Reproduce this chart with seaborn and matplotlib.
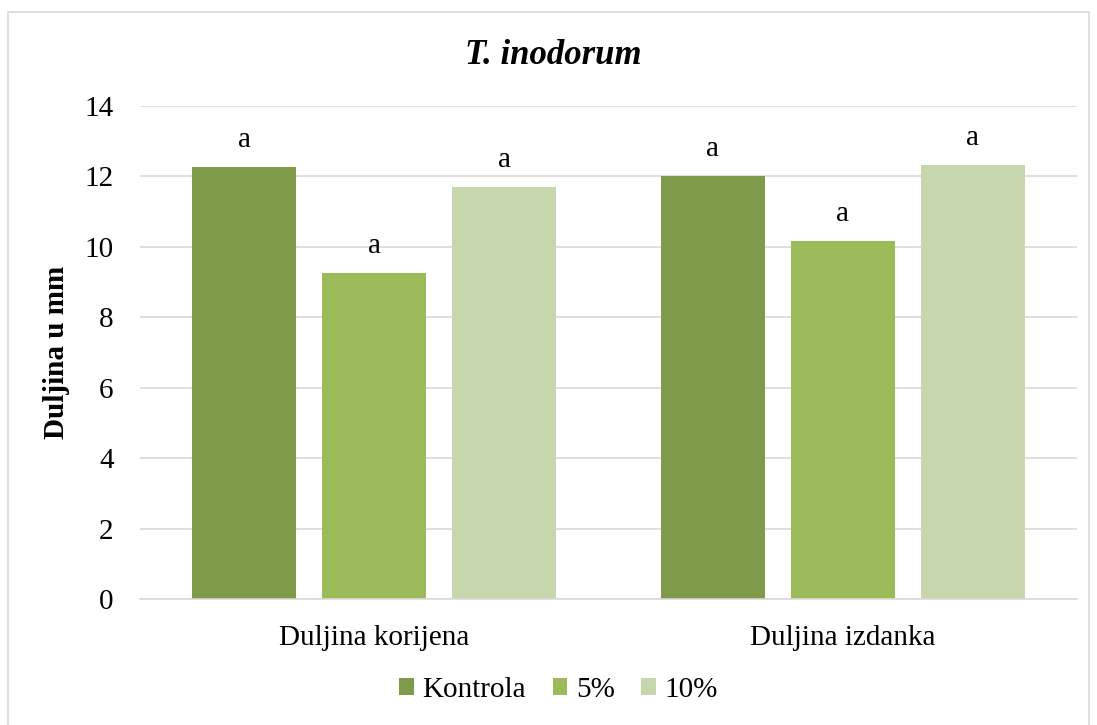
import matplotlib
matplotlib.use("Agg")
import matplotlib.pyplot as plt
import pandas as pd
import seaborn as sns

CATEGORIES = ["Duljina korijena", "Duljina izdanka"]
GROUPS = ["Kontrola", "5%", "10%"]
KONTROLA = [12.27, 12.02]
PET = [9.27, 10.18]
DESET = [11.71, 12.32]
LETTERS = [["a", "a"], ["a", "a"], ["a", "a"]]
COLORS = ["#7f9a48", "#9bbb59", "#c7d6ac"]

rows = []
for g, vals in zip(GROUPS, [KONTROLA, PET, DESET]):
    for c, v in zip(CATEGORIES, vals):
        rows.append({"cat": c, "grp": g, "val": v})
df = pd.DataFrame(rows)

sns.set_style("white")
plt.rcParams["font.family"] = ["Liberation Serif", "DejaVu Serif"]
plt.rcParams["text.color"] = "black"
plt.rcParams["xtick.color"] = "black"
plt.rcParams["ytick.color"] = "black"
plt.rcParams["axes.labelcolor"] = "black"

FS = 21

fig = plt.figure(figsize=(10.97, 7.25), dpi=100)
ax = fig.add_axes([140 / 1097, 1 - 599 / 725, (1077 - 140) / 1097, (599 - 106) / 725])

sns.barplot(data=df, x="cat", y="val", hue="grp", hue_order=GROUPS,
            palette=COLORS, saturation=1, width=0.833, gap=0.2, ax=ax,
            edgecolor="none", legend=True)

# letters above bars
for cont, letters in zip(ax.containers, LETTERS):
    ax.bar_label(cont, labels=letters, padding=10, fontsize=FS)

ax.set_ylim(0, 14)
ax.set_yticks(range(0, 15, 2))
ax.set_xlim(-0.5, 1.5)
ax.yaxis.grid(True, color="#d9d9d9", linewidth=1.2)
ax.set_axisbelow(True)
for s in ["top", "right", "left"]:
    ax.spines[s].set_visible(False)
ax.spines["bottom"].set_color("#d9d9d9")
ax.spines["bottom"].set_linewidth(1.2)
ax.tick_params(axis="both", length=0, labelsize=FS)
ax.tick_params(axis="y", pad=19)
ax.tick_params(axis="x", pad=19)
ax.set_xlabel("")
ax.set_ylabel("Duljina u mm", fontsize=FS, fontweight="bold", labelpad=10)

fig.text(0.5 + 5 / 1097, 1 - 55 / 725, "T. inodorum", ha="center", va="center",
         fontsize=25, fontweight="bold", fontstyle="italic")

handles, labels = ax.get_legend_handles_labels()
ax.legend(handles, labels, loc="center", bbox_to_anchor=(0.5 + 10 / 1097, (725 - 690) / 725),
          bbox_transform=fig.transFigure, ncol=3, frameon=False, fontsize=FS,
          handlelength=0.5, handleheight=0.5, handletextpad=0.3, columnspacing=0.9)

# chart border
fig.patches.append(plt.Rectangle((8 / 1097, -0.01), 1 - 16 / 1097, 1 - 12 / 725 + 0.01,
                                 transform=fig.transFigure, fill=False,
                                 edgecolor="#d9d9d9", linewidth=1.2))

fig.savefig("out.png", dpi=100)
